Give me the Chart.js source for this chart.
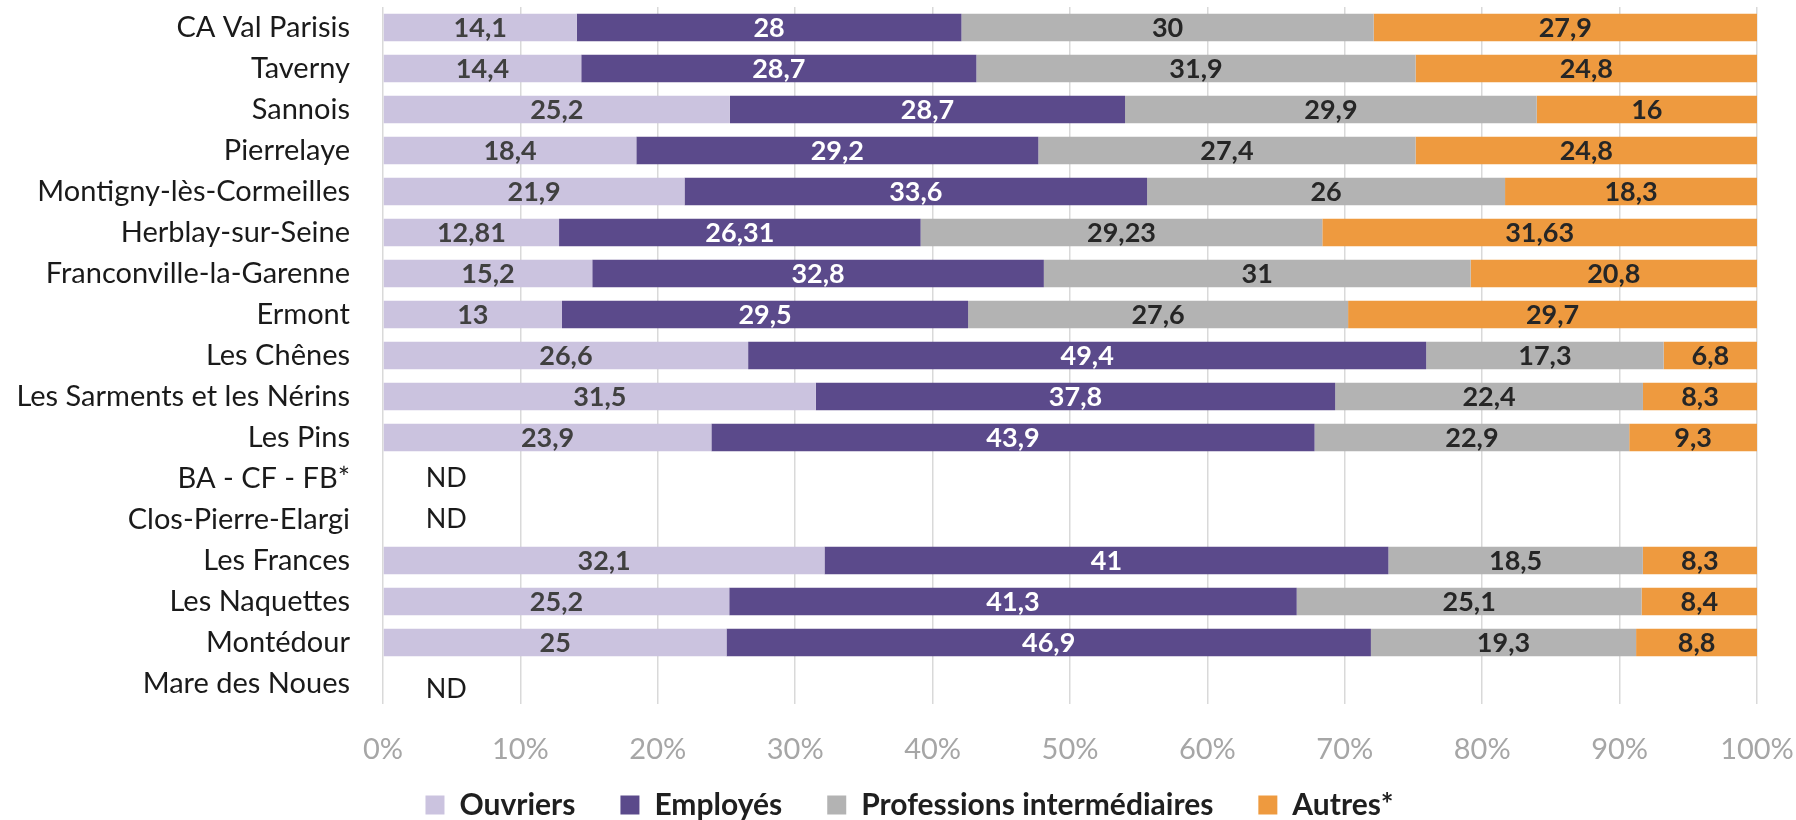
<!DOCTYPE html>
<html>
<head>
<meta charset="utf-8">
<script src="https://cdn.jsdelivr.net/npm/chart.js@4.4.1/dist/chart.umd.min.js"></script>
<style>
  html, body { margin: 0; padding: 0; background: #fff; }
  #wrap { width: 1796px; height: 820px; }
</style>
</head>
<body>
<div id="wrap"><canvas id="chart" width="1796" height="820"></canvas></div>
<script>
// données (%), null = ND
const categories = [
  "CA Val Parisis", "Taverny", "Sannois", "Pierrelaye", "Montigny-lès-Cormeilles",
  "Herblay-sur-Seine", "Franconville-la-Garenne", "Ermont", "Les Chênes",
  "Les Sarments et les Nérins", "Les Pins", "BA - CF - FB*", "Clos-Pierre-Elargi",
  "Les Frances", "Les Naquettes", "Montédour", "Mare des Noues"
];
const ouvriers = [14.1, 14.4, 25.2, 18.4, 21.9, 12.81, 15.2, 13, 26.6, 31.5, 23.9, null, null, 32.1, 25.2, 25, null];
const employes = [28, 28.7, 28.7, 29.2, 33.6, 26.31, 32.8, 29.5, 49.4, 37.8, 43.9, null, null, 41, 41.3, 46.9, null];
const professions = [30, 31.9, 29.9, 27.4, 26, 29.23, 31, 27.6, 17.3, 22.4, 22.9, null, null, 18.5, 25.1, 19.3, null];
const autres = [27.9, 24.8, 16, 24.8, 18.3, 31.63, 20.8, 29.7, 6.8, 8.3, 9.3, null, null, 8.3, 8.4, 8.8, null];
const seriesNames = ["Ouvriers", "Employés", "Professions intermédiaires", "Autres*"];
const tickStep = 10;

const FONT = "Lato, 'Open Sans', sans-serif";
const series = [ouvriers, employes, professions, autres];
const colors = ["#CBC3DF", "#5B4A8B", "#B3B3B3", "#EE9A3F"];
const labelColors = ["#404040", "#FFFFFF", "#262626", "#262626"];

// 100 % empilé : chaque ligne ramenée à son total
const totals = categories.map((c, i) => series.reduce((s, arr) => s + (arr[i] || 0), 0));
const datasets = series.map((arr, k) => ({
  label: seriesNames[k],
  data: arr.map((v, i) => v === null ? null : v / totals[i] * 100),
  raw: arr,
  backgroundColor: colors[k],
  borderWidth: 0,
  barPercentage: 0.67,
  categoryPercentage: 1
}));

const valueLabels = {
  id: "valueLabels",
  afterDatasetsDraw(chart) {
    const ctx = chart.ctx;
    ctx.save();
    ctx.textAlign = "center";
    ctx.textBaseline = "middle";
    ctx.font = "bold 27px " + FONT;
    chart.data.datasets.forEach((ds, k) => {
      const meta = chart.getDatasetMeta(k);
      meta.data.forEach((bar, i) => {
        const v = ds.raw[i];
        if (v === null) return;
        ctx.fillStyle = labelColors[k];
        ctx.fillText(String(v).replace(".", ","), (bar.x + bar.base) / 2, bar.y + 1);
      });
    });
    // lignes sans données
    const xs = chart.scales.x, ys = chart.scales.y;
    ctx.font = "27px " + FONT;
    ctx.fillStyle = "#1a1a1a";
    categories.forEach((c, i) => {
      if (totals[i] === 0) {
        ctx.fillText("ND", xs.getPixelForValue(4.6), ys.getPixelForValue(i) + (i === categories.length - 1 ? 6 : 0));
      }
    });
    ctx.restore();
  }
};

// hauteur et position de la légende
const legendBox = {
  id: "legendBox",
  beforeInit(chart) {
    const fit = chart.legend.fit;
    chart.legend.fit = function () {
      fit.bind(chart.legend)();
      this.height = 56;
    };
  },
  afterLayout(chart) {
    chart.legend.left += 31;
    chart.legend.right += 31;
    chart.legend.top -= 19;
  }
};

new Chart(document.getElementById("chart"), {
  type: "bar",
  data: { labels: categories, datasets: datasets },
  plugins: [valueLabels, legendBox],
  options: {
    indexAxis: "y",
    responsive: false,
    animation: false,
    layout: { padding: { left: 0, right: 39, top: 7, bottom: 0 } },
    plugins: {
      tooltip: { enabled: false },
      legend: {
        position: "bottom",
        labels: {
          font: { family: FONT, size: 30, weight: "bold" },
          color: "#1f1f1f",
          boxWidth: 19,
          boxHeight: 19,
          padding: 45
        }
      }
    },
    scales: {
      x: {
        stacked: true,
        min: 0,
        max: 100,
        border: { display: false },
        grid: { color: "#D9D9D9", lineWidth: 1.5, drawTicks: false },
        afterFit(scale) {
          scale.height = 60;
          scale.paddingLeft = 0;
          scale.paddingRight = 0;
        },
        ticks: {
          stepSize: tickStep,
          padding: 28,
          color: "#A6A6A6",
          font: { family: FONT, size: 29 },
          callback: v => v + "%"
        }
      },
      y: {
        stacked: true,
        border: { display: false },
        grid: { display: false },
        afterFit(scale) {
          scale.width = 383;
          scale.paddingTop = 0;
          scale.paddingBottom = 0;
        },
        ticks: {
          padding: 25,
          color: "#1a1a1a",
          font: { family: FONT, size: 29 }
        }
      }
    }
  }
});
</script>
</body>
</html>
